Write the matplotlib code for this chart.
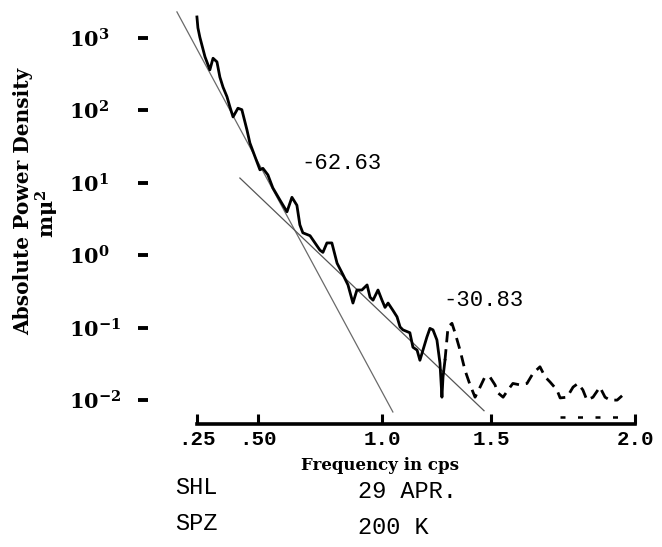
import numpy as np
import matplotlib
matplotlib.use("Agg")
import matplotlib.pyplot as plt
from matplotlib.ticker import NullLocator

plt.rcParams["mathtext.fontset"] = "custom"
plt.rcParams["mathtext.rm"] = "DejaVu Serif:bold"
plt.rcParams["mathtext.it"] = "DejaVu Serif:italic:bold"
plt.rcParams["mathtext.bf"] = "DejaVu Serif:bold"

# Power spectrum trace: frequency (cps) and log10 of absolute power density (mμ²)
freq_solid = [0.250, 0.254, 0.262, 0.283, 0.303, 0.316, 0.332, 0.344, 0.357, 0.373,
              0.385, 0.398, 0.418, 0.434, 0.455, 0.467, 0.488, 0.508, 0.520, 0.540,
              0.560, 0.589, 0.617, 0.637, 0.657, 0.669, 0.681, 0.710, 0.730, 0.750,
              0.762, 0.778, 0.798, 0.819, 0.843, 0.863, 0.883, 0.899, 0.919, 0.940,
              0.952, 0.964, 0.984, 1.000, 1.014, 1.028, 1.050, 1.069, 1.083, 1.096,
              1.128, 1.142, 1.161, 1.174, 1.188, 1.206, 1.220, 1.234, 1.252, 1.266,
              1.275, 1.280, 1.289]
logpsd_solid = [3.29, 3.14, 3.01, 2.74, 2.56, 2.72, 2.67, 2.46, 2.32, 2.19,
                2.05, 1.91, 2.03, 2.01, 1.73, 1.55, 1.36, 1.18, 1.20, 1.11,
                0.93, 0.76, 0.60, 0.80, 0.69, 0.42, 0.31, 0.27, 0.17, 0.07,
                0.04, 0.17, 0.17, -0.11, -0.27, -0.41, -0.66, -0.48, -0.48, -0.41,
                -0.58, -0.62, -0.48, -0.62, -0.72, -0.66, -0.76, -0.85, -0.99, -1.03,
                -1.07, -1.27, -1.31, -1.45, -1.31, -1.13, -1.01, -1.03, -1.17, -1.49,
                -1.96, -1.68, -1.45]

freq_dashed = [1.289, 1.303, 1.321, 1.335, 1.358, 1.381, 1.404, 1.427, 1.450, 1.472,
               1.495, 1.514, 1.524, 1.542, 1.559, 1.576, 1.601, 1.625, 1.646, 1.670,
               1.688, 1.705, 1.729, 1.740, 1.764, 1.785, 1.802, 1.819, 1.833, 1.854,
               1.878, 1.896, 1.913, 1.938, 1.955]
logpsd_dashed = [-1.45, -0.99, -0.94, -1.07, -1.31, -1.59, -1.79, -1.96, -1.82, -1.68,
                 -1.68, -1.79, -1.90, -1.96, -1.86, -1.77, -1.79, -1.77, -1.63, -1.54,
                 -1.68, -1.75, -1.86, -1.97, -1.96, -1.82, -1.77, -1.86, -2.00, -1.96,
                 -1.82, -1.96, -2.00, -2.00, -1.94]

freq_floor = [1.74, 1.98]
logpsd_floor = [-2.24, -2.24]

# Straight-line fits: slope in dB per cps, anchored at a start point
slope_steep = -62.63
steep_start = (0.168, 3.36)
steep_end_freq = 1.05
slope_shallow = -30.83
shallow_start = (0.426, 1.066)
shallow_end_freq = 1.468

x_ticks = [0.25, 0.50, 1.0, 1.5, 2.0]
x_tick_labels = [".25", ".50", "1.0", "1.5", "2.0"]
y_exponents = [3, 2, 1, 0, -1, -2]

# The frequency axis is hand-ruled: its tick stations are not evenly spaced
axis_freq = [-0.5, 0.25, 0.50, 1.0, 1.5, 2.0, 2.5]
axis_station = [14.0, 197.0, 258.0, 382.0, 491.0, 635.0, 779.0]


def forward(f):
    return np.interp(f, axis_freq, axis_station)


def inverse(s):
    return np.interp(s, axis_station, axis_freq)


W, H = 662, 547
fig = plt.figure(figsize=(W / 100, H / 100), dpi=100)
fig.patch.set_facecolor("white")

left_px, right_px, top_px, bottom_px = 143, 650, 9, 424
ax = fig.add_axes([left_px / W, 1 - bottom_px / H,
                   (right_px - left_px) / W, (bottom_px - top_px) / H])
ax.set_xscale("function", functions=(forward, inverse))
ax.set_yscale("log")
ax.set_xlim(0.029, 2.052)
ax.set_ylim(10 ** -2.33, 10 ** 3.4)


def fit_line(start, slope, f_end):
    f0, l0 = start
    l1 = l0 + slope / 10.0 * (f_end - f0)
    return [f0, f_end], [10 ** l0, 10 ** l1]


fx, fy = fit_line(steep_start, slope_steep, steep_end_freq)
ax.plot(fx, fy, color="#6a6a6a", lw=0.9, zorder=2)
fx, fy = fit_line(shallow_start, slope_shallow, shallow_end_freq)
ax.plot(fx, fy, color="#555555", lw=0.9, zorder=2)

ax.plot(freq_solid, 10.0 ** np.array(logpsd_solid), color="black", lw=2.0,
        solid_joinstyle="round", zorder=3)
ax.plot(freq_dashed, 10.0 ** np.array(logpsd_dashed), color="black", lw=2.0,
        linestyle=(0, (4, 2.5)), zorder=3)
ax.plot(freq_floor, 10.0 ** np.array(logpsd_floor), color="black", lw=1.8,
        linestyle=(0, (2, 5)), zorder=3)

mono = "Liberation Mono"
ax.text(0.677, 10 ** 1.27, "-62.63", family=mono, fontsize=16,
        ha="left", va="center", color="black")
ax.text(1.28, 10 ** -0.62, "-30.83", family=mono, fontsize=16,
        ha="left", va="center", color="black")

for side in ("top", "right", "left"):
    ax.spines[side].set_visible(False)
ax.spines["bottom"].set_bounds(0.25, 2.0)
ax.spines["bottom"].set_linewidth(2.6)

ax.set_xticks(x_ticks)
ax.set_xticklabels(x_tick_labels, family=mono, fontweight="bold", fontsize=15)
ax.xaxis.set_minor_locator(NullLocator())
ax.tick_params(axis="x", direction="in", length=7, width=2.2, pad=4)

ax.set_yticks([10.0 ** e for e in y_exponents])
ax.set_yticklabels([r"$10^{%d}$" % e for e in y_exponents], fontsize=15)
ax.yaxis.set_minor_locator(NullLocator())
ax.tick_params(axis="y", direction="inout", length=7, width=2.8, pad=50)
for lab in ax.get_yticklabels():
    lab.set_horizontalalignment("left")

ax.set_xlabel("Frequency in cps", family="DejaVu Serif", fontweight="bold",
              fontsize=12)
ax.xaxis.set_label_coords((380 - left_px) / (right_px - left_px),
                          (bottom_px - 457) / (bottom_px - top_px))

fig.text(23.5 / W, 1 - 201 / H, "Absolute Power Density", rotation=90,
         family="DejaVu Serif", fontweight="bold", fontsize=14.5,
         ha="center", va="center")
fig.text(47 / W, 1 - 214 / H, "mμ$^{2}$", rotation=90, family="DejaVu Serif",
         fontweight="bold", fontsize=15, ha="center", va="center")

fig.text(175 / W, 1 - 488 / H, "SHL", family=mono, fontsize=17,
         ha="left", va="center")
fig.text(175 / W, 1 - 523 / H, "SPZ", family=mono, fontsize=17,
         ha="left", va="center")
fig.text(358 / W, 1 - 491 / H, "29 APR.", family=mono, fontsize=17,
         ha="left", va="center")
fig.text(358 / W, 1 - 527 / H, "200 K", family=mono, fontsize=17,
         ha="left", va="center")

fig.savefig("out.png", dpi=100, facecolor="white")
